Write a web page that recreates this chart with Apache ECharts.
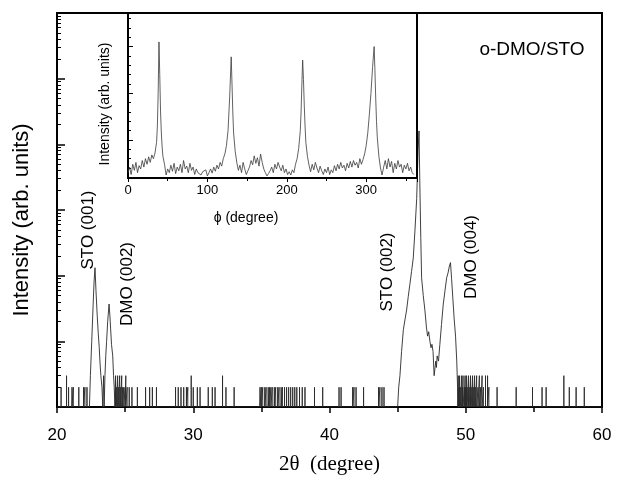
<!DOCTYPE html>
<html>
<head>
<meta charset="utf-8">
<script src="https://cdn.jsdelivr.net/npm/echarts@6/dist/echarts.min.js"></script>
<style>html,body{margin:0;padding:0;background:#fff}#c{width:623px;height:480px}</style>
</head>
<body>
<div id="c"></div>
<script>
// ---- Main pattern: peak profiles (2theta, counts) ----
const peak1X = [22.38,22.45,22.55,22.65,22.72,22.79,22.86,22.95,23.03,23.1,23.15,23.22,23.3,23.36,23.42,23.46,23.52,23.58,23.64,23.72,23.82,23.88,23.94,24.0,24.09,24.15,24.2,24.25];
const peak1Y = [1,3,10,35,80,132,60,25,13,8,5,3,2,1,3,1,3,6,10,20,37,25,15,9,6,3,2,1];
const peak2X = [45.0,45.08,45.17,45.29,45.42,45.55,45.66,45.78,45.9,46.02,46.15,46.27,46.4,46.5,46.57,46.63,46.7,46.76,46.88,47.0,47.12,47.2,47.28,47.37,47.45,47.52,47.6,47.68,47.74,47.8,47.85,47.9,48.0,48.1,48.22,48.35,48.48,48.6,48.7,48.8,48.88,48.96,49.05,49.15,49.25,49.34,49.4,49.42];
const peak2Y = [1,2,3,7,15,22,30,48,74,115,187,480,1500,8000,16000,2500,380,93,50,30,16,12,14,10,8,9,7,3,3,5,4,6,5,9,18,37,60,93,110,140,158,90,46,22,12,5,2,1];
// ---- Background noise spikes (2theta, counts) ----
const noiseX = [20.3,20.7,20.85,21.1,21.2,21.6,21.95,22.05,22.2,
  24.3,24.35,24.45,24.5,24.6,24.65,24.75,24.8,24.9,25.0,25.05,25.15,25.3,25.5,
  25.9,26.5,26.8,27.0,27.3,28.7,28.9,29.1,29.3,29.5,29.6,29.85,30.0,30.3,30.5,31.1,31.4,31.6,32.15,32.4,33.0,
  34.9,35.0,35.1,35.25,35.35,35.5,35.6,35.7,35.8,35.95,36.05,36.2,36.3,36.45,36.55,36.7,36.85,37.0,37.15,37.3,37.45,37.6,37.8,38.0,38.2,
  38.9,39.5,40.7,40.85,41.7,41.8,41.95,42.5,43.6,43.7,43.85,44.0,
  49.45,49.5,49.55,49.6,49.7,49.75,49.8,49.9,49.95,50.0,50.05,50.1,50.2,50.25,50.35,50.4,50.5,50.55,50.65,50.7,50.8,50.9,51.0,51.1,51.2,51.3,51.45,51.6,51.7,
  52.3,53.7,54.9,55.6,55.9,57.2,57.6,58.1,58.7];
const noiseH = [2,3,2,2,2,2,2,2,2,
  3,2,3,2,3,2,3,2,2,2,3,2,2,2,
  2,2,2,2,2,2,2,2,2,2,2,3,2,2,2,2,2,2,3,2,2,
  2,2,2,2,2,2,2,2,2,2,2,2,2,2,2,2,2,2,2,2,2,2,2,2,2,
  2,2,2,2,2,2,2,2,2,2,2,2,
  3,2,3,2,3,2,3,2,3,2,3,2,3,2,3,2,3,2,3,2,3,2,3,2,3,2,3,3,2,
  2,2,2,2,2,3,2,2,2];
// ---- Inset phi-scan (phi degree, intensity) ----
const phiX = [0,2,4,6,8,10,12,14,16,18,20,22,24,26,28,30,32,34,36,37,38,39,40,41,42,43,44,46,48,50,52,54,56,58,60,62,64,66,68,70,72,74,76,78,80,82,84,86,88,90,92,94,96,98,100,102,104,106,108,110,112,114,116,118,120,122,124,126,128,130,131,132,133,135,137,139,141,143,145,147,149,151,153,155,157,159,161,163,165,167,169,171,173,175,177,179,181,183,185,187,189,191,193,195,197,199,201,203,205,207,209,211,213,215,217,218,219,220,221,222,223,224,226,228,230,232,234,236,238,240,242,244,246,248,250,252,254,256,258,260,262,264,266,268,270,272,274,276,278,280,282,284,286,288,290,292,294,296,298,300,302,304,306,308,310,311,312,313,314,316,318,320,322,324,326,328,330,332,334,336,338,340,342,344,346,348,350,352,354,356,358,360];
const phiY = [300,420,260,480,350,520,300,450,380,560,420,600,480,640,520,680,600,720,950,1300,2000,3100,2400,1600,1150,850,650,480,250,380,300,460,330,500,280,420,340,480,300,560,380,440,300,500,350,420,260,380,300,340,250,320,280,360,230,300,380,290,420,330,460,380,520,440,600,700,880,1200,1900,2780,2200,1600,1150,760,520,350,460,300,520,380,260,340,420,560,470,660,500,620,440,700,520,380,300,230,280,340,420,300,480,380,520,420,340,460,300,380,260,320,250,360,300,480,600,820,1200,1600,2200,2710,2300,1750,1300,950,650,460,320,480,360,520,400,300,440,340,260,380,300,420,260,360,300,450,340,480,380,520,400,460,340,500,400,540,420,560,460,520,400,600,480,580,700,880,1150,1550,2000,2550,3000,2500,1900,1400,1050,650,400,250,420,560,380,600,420,540,300,500,380,560,420,480,300,460,380,500,340,420,300,260];

// build main series points from the read values
const segs = [];
segs.push([[20,1]]);
segs.push(peak1X.map((x,i)=>[x,peak1Y[i]]));
segs.push(peak2X.map((x,i)=>[x,peak2Y[i]]));
noiseX.forEach((x,i)=>segs.push([[x,1],[x,noiseH[i]],[x,1]]));
segs.push([[60,1]]);
segs.sort((a,b)=>a[0][0]-b[0][0]);
const mainData = [].concat(...segs);
const insetData = phiX.map((x,i)=>[x,phiY[i]]);

const SANS = 'Arial, "Liberation Sans", sans-serif';
const SERIF = '"Times New Roman", "Liberation Serif", serif';

const chart = echarts.init(document.getElementById('c'), null, {renderer:'canvas'});
chart.setOption({
  animation:false,
  backgroundColor:'#fff',
  grid:[
    {left:57, right:21, top:13, bottom:70, show:true, borderColor:'#000', borderWidth:2, backgroundColor:'transparent', containLabel:false},
    {left:128, top:13, width:289, height:165, show:true, borderColor:'#000', borderWidth:2, backgroundColor:'#fff', z:10}
  ],
  xAxis:[
    {type:'value', gridIndex:0, min:20, max:60, interval:10,
     name:'2θ  (degree)', nameLocation:'middle', nameGap:47,
     nameTextStyle:{fontFamily:SERIF, fontSize:21, color:'#000'},
     axisLine:{lineStyle:{color:'#000', width:2}},
     axisTick:{inside:false, length:6, lineStyle:{color:'#000', width:1.5}},
     minorTick:{show:true, splitNumber:2, length:5, lineStyle:{color:'#000', width:1.5}},
     axisLabel:{fontFamily:SANS, fontSize:17, color:'#000', margin:20},
     splitLine:{show:false}},
    {type:'value', gridIndex:1, min:0, max:364, interval:100, z:11,
     axisLine:{lineStyle:{color:'#000', width:2}},
     axisTick:{inside:false, length:4, lineStyle:{color:'#000', width:1}},
     minorTick:{show:true, splitNumber:2, length:3, lineStyle:{color:'#000', width:1}},
     axisLabel:{fontFamily:SANS, fontSize:13, color:'#000', margin:6,
       formatter:v=>(v%100===0 && v<=300)?String(v):''},
     splitLine:{show:false}}
  ],
  yAxis:[
    {type:'log', logBase:10, gridIndex:0, min:1, max:1000000,
     name:'Intensity (arb. units)', nameLocation:'middle', nameGap:24, nameRotate:90,
     nameTextStyle:{fontFamily:SANS, fontSize:22, color:'#000', padding:[0,20,0,0]},
     axisLine:{lineStyle:{color:'#000', width:2}},
     axisTick:{inside:true, length:8, lineStyle:{color:'#000', width:1.5}},
     minorTick:{show:true, splitNumber:9, length:4, lineStyle:{color:'#000', width:1}},
     axisLabel:{show:false},
     splitLine:{show:false}},
    {type:'value', gridIndex:1, min:186, max:3719, splitNumber:3, z:11,
     axisLine:{lineStyle:{color:'#000', width:2}},
     axisTick:{inside:true, length:5, lineStyle:{color:'#000', width:1}},
     minorTick:{show:true, splitNumber:5, length:3, lineStyle:{color:'#000', width:1}},
     axisLabel:{show:false},
     splitLine:{show:false}}
  ],
  series:[
    {type:'line', xAxisIndex:0, yAxisIndex:0, data:mainData, showSymbol:false, symbol:'none',
     lineStyle:{color:'#2a2a2a', width:0.9}, z:2},
    {type:'line', xAxisIndex:1, yAxisIndex:1, data:insetData, showSymbol:false, symbol:'none',
     lineStyle:{color:'#3a3a3a', width:0.8}, z:12}
  ],
  graphic:[
    {type:'text', x:532, y:50, z:100, style:{text:'o-DMO/STO', x:0, y:0, align:'center', verticalAlign:'middle', font:'19px '+SANS, fill:'#000'}},
    {type:'text', x:88, y:230, rotation:Math.PI/2, z:100, style:{text:'STO (001)', x:0, y:0, align:'center', verticalAlign:'middle', font:'17px '+SANS, fill:'#000'}},
    {type:'text', x:127, y:284, rotation:Math.PI/2, z:100, style:{text:'DMO (002)', x:0, y:0, align:'center', verticalAlign:'middle', font:'17px '+SANS, fill:'#000'}},
    {type:'text', x:387, y:272, rotation:Math.PI/2, z:100, style:{text:'STO (002)', x:0, y:0, align:'center', verticalAlign:'middle', font:'17px '+SANS, fill:'#000'}},
    {type:'text', x:471, y:257, rotation:Math.PI/2, z:100, style:{text:'DMO (004)', x:0, y:0, align:'center', verticalAlign:'middle', font:'17px '+SANS, fill:'#000'}},
    {type:'text', x:105, y:104, rotation:Math.PI/2, z:100, style:{text:'Intensity (arb. units)', x:0, y:0, align:'center', verticalAlign:'middle', font:'14px '+SANS, fill:'#000'}},
    {type:'text', x:246, y:218, z:100, style:{text:'ϕ (degree)', x:0, y:0, align:'center', verticalAlign:'middle', font:'14px '+SANS, fill:'#000'}}
  ]
});
</script>
</body>
</html>
